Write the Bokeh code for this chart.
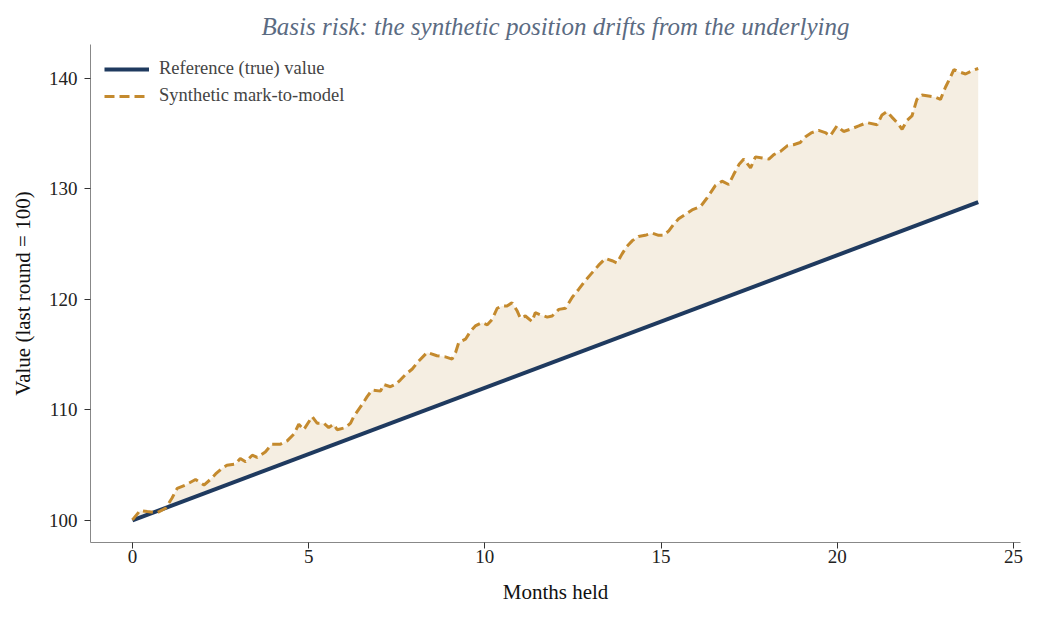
from bokeh.plotting import figure
from bokeh.models import Range1d, Legend, LegendItem
from bokeh.embed import file_html
from bokeh.resources import INLINE

# reference (true) value: straight line
ref_months = [0, 24]
ref_values = [100.0, 128.8]

# synthetic mark-to-model
syn_months = [0.0, 0.22, 0.42, 0.70, 0.94, 1.12, 1.27, 1.50, 1.79, 2.03, 2.21, 2.36, 2.54,
              2.68, 2.92, 3.06, 3.21, 3.40, 3.54, 3.77, 3.96, 4.20, 4.39, 4.58, 4.72, 4.86,
              5.10, 5.24, 5.43, 5.57, 5.71, 5.81, 6.05, 6.19, 6.28, 6.52, 6.66, 6.80, 7.04,
              7.13, 7.32, 7.46, 7.60, 7.75, 7.94, 8.12, 8.36, 8.64, 8.88, 9.07, 9.17, 9.26,
              9.45, 9.59, 9.73, 9.92, 10.07, 10.21, 10.35, 10.49, 10.63, 10.77, 10.91, 11.01,
              11.15, 11.34, 11.43, 11.58, 11.77, 11.91, 12.10, 12.29, 12.48, 12.66, 12.85,
              13.04, 13.23, 13.42, 13.61, 13.75, 13.89, 14.03, 14.18, 14.36, 14.55, 14.75,
              14.93, 15.07, 15.22, 15.36, 15.50, 15.69, 15.88, 16.12, 16.31, 16.54, 16.73,
              16.92, 17.06, 17.21, 17.35, 17.54, 17.68, 17.87, 18.06, 18.20, 18.39, 18.58,
              18.76, 18.95, 19.09, 19.28, 19.47, 19.66, 19.80, 19.99, 20.18, 20.37, 20.61,
              20.84, 21.13, 21.27, 21.41, 21.55, 21.70, 21.84, 21.98, 22.12, 22.26, 22.40,
              22.59, 22.78, 22.93, 23.07, 23.21, 23.31, 23.45, 23.64, 23.83, 24.0]
syn_values = [100.05, 100.9, 100.8, 100.7, 101.1, 102.0, 102.9, 103.2, 103.7, 103.2, 103.7,
              104.2, 104.7, 105.0, 105.1, 105.6, 105.3, 105.9, 105.7, 106.2, 106.9, 106.9,
              107.2, 107.8, 108.7, 108.2, 109.4, 108.8, 108.8, 108.4, 108.7, 108.2, 108.4,
              108.8, 109.4, 110.5, 111.2, 111.8, 111.7, 112.3, 112.1, 112.3, 112.7, 113.2,
              113.7, 114.4, 115.2, 114.9, 114.8, 114.6, 115.2, 116.1, 116.4, 117.1, 117.6,
              117.9, 117.7, 118.2, 119.2, 119.4, 119.4, 119.7, 119.0, 118.3, 118.5, 118.0,
              118.8, 118.6, 118.4, 118.5, 119.1, 119.2, 120.2, 120.9, 121.7, 122.4, 123.1,
              123.7, 123.5, 123.3, 124.1, 124.8, 125.3, 125.7, 125.8, 126.0, 125.8, 125.8,
              126.2, 126.8, 127.3, 127.7, 128.1, 128.4, 129.2, 130.3, 130.7, 130.4, 131.3,
              132.2, 132.7, 131.9, 132.9, 132.8, 132.7, 133.1, 133.4, 133.9, 134.0, 134.2,
              134.7, 135.1, 135.3, 135.1, 134.8, 135.7, 135.2, 135.4, 135.7, 136.0, 135.8,
              136.7, 137.0, 136.5, 136.0, 135.4, 136.2, 136.6, 138.1, 138.5, 138.4, 138.3,
              138.1, 139.2, 140.1, 140.8, 140.6, 140.4, 140.7, 140.9]

x_ticks = [0, 5, 10, 15, 20, 25]
y_ticks = [100, 110, 120, 130, 140]

NAVY = "#1f3a5f"
GOLD = "#c48a2e"
FONT = "Liberation Serif"

p = figure(width=1023, height=606, output_backend="svg", toolbar_location=None,
           x_range=Range1d(-1.19, 25.2), y_range=Range1d(98.0, 143.07),
           min_border_left=90, min_border_right=3, min_border_top=44, min_border_bottom=60)

p.title.text = "Basis risk: the synthetic position drifts from the underlying"
p.title.text_font = FONT
p.title.text_font_style = "italic"
p.title.text_font_size = "25px"
p.title.text_color = "#5b6b82"
p.title.align = "center"

# shaded gap between the two series
p.patch(syn_months + ref_months[::-1], syn_values + ref_values[::-1],
        fill_color="#f5eee2", line_color=None)

r_ref = p.line(ref_months, ref_values, line_color=NAVY, line_width=4)
r_syn = p.line(syn_months, syn_values, line_color=GOLD, line_width=3, line_dash="10 5")

legend = Legend(items=[LegendItem(label="Reference (true) value", renderers=[r_ref]),
                       LegendItem(label="Synthetic mark-to-model", renderers=[r_syn])],
                location="top_left")
legend.border_line_color = None
legend.background_fill_alpha = 0
legend.label_text_font = FONT
legend.label_text_font_size = "18.5px"
legend.glyph_width = 45
legend.label_standoff = 10
legend.spacing = 6
legend.margin = 14
p.add_layout(legend)

p.xgrid.visible = False
p.ygrid.visible = False
p.outline_line_color = None

p.xaxis.ticker = x_ticks
p.yaxis.ticker = y_ticks
p.xaxis.axis_label = "Months held"
p.yaxis.axis_label = "Value (last round = 100)"
for ax in (p.xaxis[0], p.yaxis[0]):
    ax.axis_line_color = "#888888"
    ax.major_tick_line_color = "#333333"
    ax.major_tick_out = 6
    ax.major_tick_in = 0
    ax.minor_tick_line_color = None
    ax.major_label_text_font = FONT
    ax.major_label_text_font_size = "19px"
    ax.major_label_text_color = "#222222"
    ax.axis_label_text_font = FONT
    ax.axis_label_text_font_size = "21px"
    ax.axis_label_text_font_style = "normal"
    ax.axis_label_text_color = "#111111"

p.xaxis.major_label_standoff = 1
p.xaxis.axis_label_standoff = 14
p.yaxis.major_label_standoff = 7
p.yaxis.axis_label_standoff = 11

open("out.html", "w").write(file_html(p, INLINE))
